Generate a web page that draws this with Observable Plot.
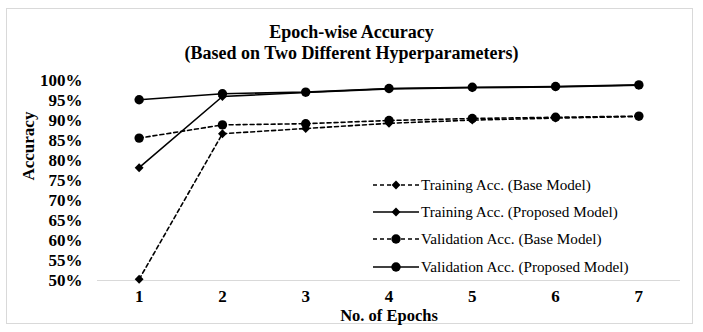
<!DOCTYPE html>
<html>
<head>
<meta charset="utf-8">
<script src="https://cdn.jsdelivr.net/npm/d3@7"></script>
<script src="https://cdn.jsdelivr.net/npm/@observablehq/plot@0.6"></script>
<style>
  html, body { margin: 0; padding: 0; background: #fff; }
  #wrap { position: relative; width: 703px; height: 332px; font-family: "Liberation Serif", "Times New Roman", serif; }
  #frame { position: absolute; left: 6px; top: 8px; width: 687px; height: 316px; border: 1px solid #d9d9d9; box-sizing: border-box; }
  .title { position: absolute; left: 0; width: 703px; text-align: center; font-weight: bold; font-size: 18px; color: #000; }
  #chart { position: absolute; left: 0; top: 0; }
  #legend { position: absolute; left: 373px; top: 171px; font-size: 15.2px; color: #000; }
  #legend .row { height: 27.3px; display: flex; align-items: center; white-space: nowrap; }
  #legend svg { margin-right: 2px; }
</style>
</head>
<body>
<div id="wrap">
  <div id="frame"></div>
  <div class="title" style="top:22px">Epoch-wise Accuracy</div>
  <div class="title" style="top:43px">(Based on Two Different Hyperparameters)</div>
  <div id="chart"></div>
  <div id="legend"></div>
</div>
<script>
const epochs = [1, 2, 3, 4, 5, 6, 7];
const seriesNames = [
  "Training Acc. (Base Model)",
  "Training Acc. (Proposed Model)",
  "Validation Acc. (Base Model)",
  "Validation Acc. (Proposed Model)"
];
const trainBase = [50.3, 86.7, 88.0, 89.3, 90.1, 90.6, 91.0];
const trainProp = [78.2, 96.0, 97.0, 97.9, 98.2, 98.4, 98.8];
const valBase   = [85.6, 88.9, 89.2, 90.0, 90.5, 90.8, 91.1];
const valProp   = [95.2, 96.7, 97.1, 98.0, 98.3, 98.5, 98.9];
const yTicks = [50, 55, 60, 65, 70, 75, 80, 85, 90, 95, 100];

const seriesValues = [trainBase, trainProp, valBase, valProp];
const styles = [
  {dash: "4,3", symbol: "diamond2", r: 4.0},
  {dash: null, symbol: "diamond2", r: 4.0},
  {dash: "4,3", symbol: "circle", r: 4.7},
  {dash: null, symbol: "circle", r: 4.7}
];

const marks = [
  Plot.ruleY([50], {stroke: "#d9d9d9", strokeWidth: 1.2})
];
seriesValues.forEach((vals, i) => {
  const data = epochs.map((e, j) => ({epoch: e, value: vals[j], series: seriesNames[i]}));
  const st = styles[i];
  marks.push(Plot.line(data, {x: "epoch", y: "value", stroke: "#000", strokeWidth: 1.6,
    strokeDasharray: st.dash || undefined}));
  marks.push(Plot.dot(data, {x: "epoch", y: "value", fill: "#000", stroke: "none",
    symbol: st.symbol, r: st.r}));
});

const chart = Plot.plot({
  width: 703,
  height: 332,
  marginTop: 80,
  marginBottom: 52,
  marginLeft: 97,
  marginRight: 23,
  style: {fontFamily: "Liberation Serif, Times New Roman, serif", background: "transparent", overflow: "visible"},
  x: {domain: [0.5, 7.5], ticks: epochs, tickFormat: d => String(d), tickSize: 0, label: null},
  y: {domain: [50, 100], ticks: yTicks, tickFormat: d => d + "%", tickSize: 0, label: null},
  marks: [
    ...marks,
    Plot.axisX({ticks: epochs, tickSize: 0, tickPadding: 9, fontSize: 17, fontWeight: "bold", fill: "#000", label: null, tickFormat: d => String(d)}),
    Plot.axisY({ticks: yTicks, tickSize: 0, tickPadding: 15, fontSize: 17, fontWeight: "bold", fill: "#000", label: null, tickFormat: d => d + "%"}),
    Plot.text(["No. of Epochs"], {frameAnchor: "bottom", lineAnchor: "middle", dy: 35, fontSize: 16.5, fontWeight: "bold", fill: "#000"}),
    Plot.text(["Accuracy"], {frameAnchor: "left", dx: -69, rotate: -90, fontSize: 17, fontWeight: "bold", fill: "#000"})
  ]
});
document.getElementById("chart").appendChild(chart);

// Legend
const legend = document.getElementById("legend");
seriesNames.forEach((name, i) => {
  const st = styles[i];
  const row = document.createElement("div");
  row.className = "row";
  const ns = "http://www.w3.org/2000/svg";
  const svg = document.createElementNS(ns, "svg");
  svg.setAttribute("width", "46");
  svg.setAttribute("height", "12");
  const line = document.createElementNS(ns, "line");
  line.setAttribute("x1", "0"); line.setAttribute("x2", "46");
  line.setAttribute("y1", "6"); line.setAttribute("y2", "6");
  line.setAttribute("stroke", "#000"); line.setAttribute("stroke-width", "1.6");
  if (st.dash) line.setAttribute("stroke-dasharray", st.dash);
  svg.appendChild(line);
  const sym = document.createElementNS(ns, "path");
  const sz = st.r * st.r * Math.PI;
  sym.setAttribute("d", d3.symbol(st.symbol === "circle" ? d3.symbolCircle : d3.symbolDiamond2, sz)());
  sym.setAttribute("transform", "translate(23,6)");
  sym.setAttribute("fill", "#000");
  svg.appendChild(sym);
  row.appendChild(svg);
  const span = document.createElement("span");
  span.textContent = name;
  row.appendChild(span);
  legend.appendChild(row);
});
</script>
</body>
</html>
